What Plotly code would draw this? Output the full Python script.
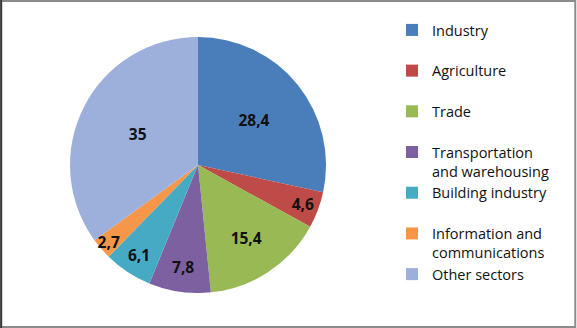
import plotly.graph_objects as go

categories = ["Industry", "Agriculture", "Trade", "Transportation<br>and warehousing",
              "Building industry", "Information and<br>communications", "Other sectors"]
values = [28.4, 4.6, 15.4, 7.8, 6.1, 2.7, 35]
colors = ["#4A7EBB", "#BE4B48", "#98B954", "#7D60A0", "#46AAC5", "#F59649", "#9DB0DB"]

# legend labels: pad single-line labels so every item takes two lines
legend_labels = [c if "<br>" in c else c + "<br>\u00a0" for c in categories]
text_labels = [f"{v:g}".replace(".", ",") for v in values]

W, H = 577, 328
cx, cy, r = 198, 165, 128

fig = go.Figure(go.Pie(
    labels=legend_labels,
    values=values,
    text=text_labels,
    textinfo="text",
    textposition="inside",
    insidetextorientation="horizontal",
    sort=False,
    direction="clockwise",
    rotation=0,
    marker=dict(colors=colors, line=dict(width=0)),
    textfont=dict(family="Open Sans", size=15.5, color="#111111", weight="bold"),
    domain=dict(x=[(cx - r) / W, (cx + r) / W], y=[(H - cy - r) / H, (H - cy + r) / H]),
    hoverinfo="label+value",
))

fig.update_layout(
    width=W, height=H,
    margin=dict(l=0, r=0, t=0, b=0),
    paper_bgcolor="white",
    uniformtext=dict(minsize=15.5, mode="show"),
    font=dict(family="Open Sans", size=14.5, color="#111111"),
    showlegend=True,
    legend=dict(
        x=(392) / W, y=1 - 14 / H, xanchor="left", yanchor="top",
        valign="top", itemwidth=30, bgcolor="rgba(0,0,0,0)",
        font=dict(family="Open Sans", size=14.5, color="#111111"),
        tracegroupgap=0,
    ),
    shapes=[
        dict(type="rect", xref="paper", yref="paper", x0=0.002, y0=0.003, x1=0.997, y1=0.997,
             line=dict(color="#8C8C8C", width=2)),
        dict(type="line", xref="paper", yref="paper", x0=0.002, y0=0, x1=0.002, y1=1,
             line=dict(color="#3A3A3A", width=2)),
    ],
)

fig.write_html("out.html")
